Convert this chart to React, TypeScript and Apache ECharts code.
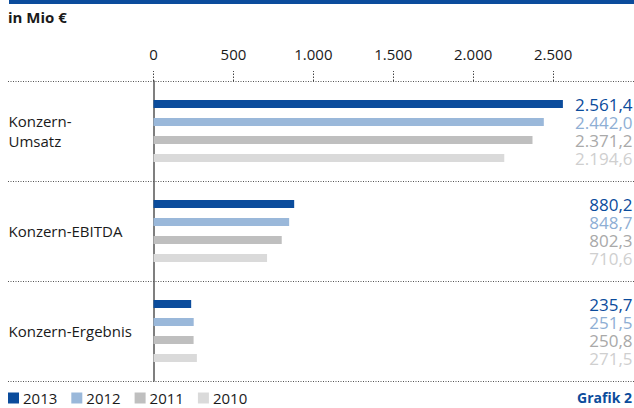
import React, { useEffect, useRef } from "react";
import * as echarts from "echarts";

const categories = ["Konzern-\nUmsatz", "Konzern-EBITDA", "Konzern-Ergebnis"];
const years = ["2013", "2012", "2011", "2010"];
const values2013 = [2561.4, 880.2, 235.7];
const values2012 = [2442.0, 848.7, 251.5];
const values2011 = [2371.2, 802.3, 250.8];
const values2010 = [2194.6, 710.6, 271.5];
const tickValues = [0, 500, 1000, 1500, 2000, 2500];

const barColors = ["#0b4c9c", "#9ab8da", "#bfbfbf", "#dadada"];
const labelColors = ["#0b4c9c", "#8eaed4", "#a9a9a9", "#cfcfcf"];
const FONT = "'Open Sans', 'Noto Sans', sans-serif";

function fmtDe(v: number): string {
  const fixed = v.toFixed(1);
  const [intPart, dec] = fixed.split(".");
  const withSep = intPart.replace(/\B(?=(\d{3})+(?!\d))/g, ".");
  return withSep + "," + dec;
}
function fmtTick(v: number): string {
  return String(v).replace(/\B(?=(\d{3})+(?!\d))/g, ".");
}

export default function App() {
  const ref = useRef<HTMLDivElement>(null);
  useEffect(() => {
    if (!ref.current) return;
    const chart = echarts.init(ref.current, undefined, { renderer: "svg" });
    const seriesData = [values2013, values2012, values2011, values2010];
    const dotted = { stroke: "#555", lineWidth: 1, lineDash: [1, 1.5] };
    chart.setOption({
      animation: false,
      textStyle: { fontFamily: FONT },
      grid: { left: 153.5, right: 1, top: 81, height: 300, containLabel: false },
      xAxis: {
        type: "value",
        position: "top",
        min: 0,
        max: 3000,
        interval: 500,
        axisLine: { show: false },
        splitLine: { show: false },
        axisTick: {
          show: true,
          length: 10,
          inside: false,
          customValues: tickValues,
          lineStyle: { color: "#444", type: [1.5, 1.5], width: 1 },
        },
        axisLabel: {
          customValues: tickValues,
          margin: 20,
          fontSize: 15,
          color: "#1a1a1a",
          fontFamily: FONT,
          formatter: (v: number) => fmtTick(v),
        },
      },
      yAxis: {
        type: "category",
        data: categories,
        inverse: true,
        axisLine: { show: true, lineStyle: { color: "#555", width: 1.5 } },
        axisTick: { show: false },
        splitLine: { show: false },
        axisLabel: {
          align: "left",
          margin: 145,
          fontSize: 15,
          lineHeight: 20,
          color: "#1a1a1a",
          fontFamily: FONT,
        },
      },
      legend: {
        left: 8,
        top: 390,
        padding: 0,
        icon: "rect",
        itemWidth: 11,
        itemHeight: 11,
        itemGap: 14,
        textStyle: { fontSize: 15, lineHeight: 16, color: "#1a1a1a", fontFamily: FONT, padding: [0, 0, 0, -1] },
        data: years,
      },
      series: years.map((y, i) => ({
        name: y,
        type: "bar",
        data: seriesData[i],
        barWidth: 8,
        barGap: "125%",
        itemStyle: { color: barColors[i] },
        label: {
          show: true,
          position: [479, 4],
          align: "right",
          verticalAlign: "middle",
          fontSize: 17,
          lineHeight: 15,
          color: labelColors[i],
          fontFamily: FONT,
          formatter: (p: any) => fmtDe(p.value),
        },
      })),
      graphic: [
        { type: "rect", shape: { x: 9, y: 0, width: 625, height: 4 }, style: { fill: "#0b4c9c" } },
        {
          type: "text",
          x: 8,
          y: 17,
          style: { text: "in Mio €", font: `bold 15px ${FONT}`, fill: "#1a1a1a", textVerticalAlign: "middle" },
        },
        { type: "line", shape: { x1: 8, y1: 81.5, x2: 634, y2: 81.5 }, style: dotted },
        { type: "line", shape: { x1: 8, y1: 181.5, x2: 634, y2: 181.5 }, style: dotted },
        { type: "line", shape: { x1: 8, y1: 281.5, x2: 634, y2: 281.5 }, style: dotted },
        { type: "line", shape: { x1: 8, y1: 381.5, x2: 634, y2: 381.5 }, style: dotted },
        {
          type: "text",
          right: 2,
          top: 390,
          style: { text: "Grafik 2", font: `bold 14px ${FONT}`, fill: "#0b4c9c" },
        },
      ],
    });
    return () => chart.dispose();
  }, []);
  return <div ref={ref} style={{ width: 634, height: 408, position: "absolute", left: 0, top: 0 }} />;
}
